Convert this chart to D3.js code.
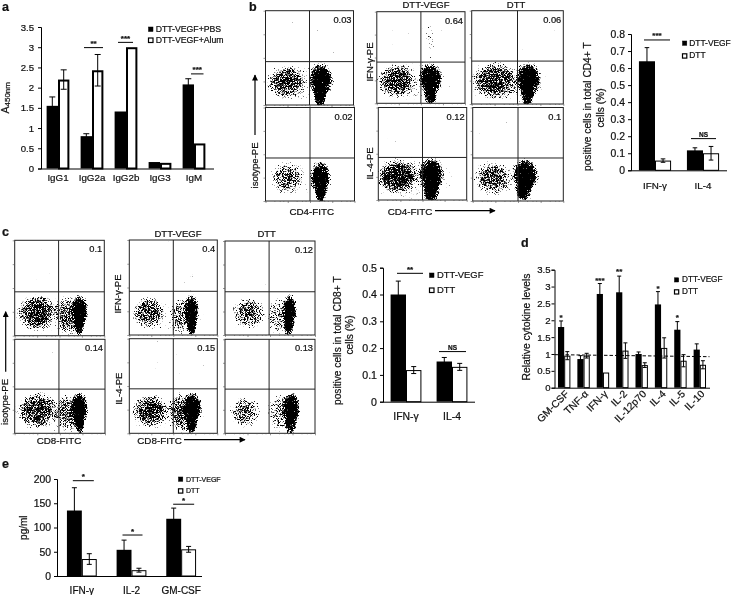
<!DOCTYPE html>
<html><head><meta charset="utf-8">
<script src="https://cdn.jsdelivr.net/npm/d3@7"></script>
<style>
html,body{margin:0;padding:0;background:#fff}
svg{display:block;filter:blur(0.35px)}
text{font-family:"Liberation Sans",Arial,sans-serif;fill:#111;stroke:#111;stroke-width:.22px}
</style></head><body><svg id="fig" width="738" height="595"></svg>
<script>
// ---------- bar chart data ----------
const aCategories=["IgG1","IgG2a","IgG2b","IgG3","IgM"];
const aSeries=["DTT-VEGF+PBS","DTT-VEGF+Alum"];
const aPbs=[1.55,0.8,1.41,0.16,2.08], aPbsErr=[0.22,0.06,0.01,0.005,0.14];
const aAlum=[2.2,2.43,3.0,0.14,0.62], aAlumErr=[0.24,0.39,0,0.005,0.02];
const aTicks=[0,0.5,1,1.5,2,2.5,3,3.5];

const legendSeries=["DTT-VEGF","DTT"];
const bCategories=["IFN-γ","IL-4"];
const bVegf=[0.64,0.117], bVegfErr=[0.08,0.015];
const bDtt=[0.057,0.1], bDttErr=[0.01,0.04];
const bTicks=[0,0.1,0.2,0.3,0.4,0.5,0.6,0.7,0.8];

const cCategories=["IFN-γ","IL-4"];
const cVegf=[0.4,0.15], cVegfErr=[0.05,0.015];
const cDtt=[0.118,0.13], cDttErr=[0.013,0.013];
const cTicks=[0,0.1,0.2,0.3,0.4,0.5];

const dCategories=["GM-CSF","TNF-α","IFN-γ","IL-2","IL-12p70","IL-4","IL-5","IL-10"];
const dVegf=[1.8,0.85,2.78,2.83,1.0,2.47,1.72,1.13], dVegfErr=[0.18,0.1,0.31,0.48,0.06,0.38,0.24,0.17];
const dDtt=[0.95,0.95,0.45,1.1,0.67,1.18,0.8,0.68], dDttErr=[0.12,0.07,0.03,0.23,0.07,0.3,0.18,0.12];
const dTicks=[0,0.5,1,1.5,2,2.5,3,3.5];
const dBaseline=[0.98,0.92];

const eCategories=["IFN-γ","IL-2","GM-CSF"];
const eVegf=[135,54,118], eVegfErr=[47,20,22];
const eDtt=[35,12,55], eDttErr=[11,4,6];
const eTicks=[0,50,100,150,200];

// ---------- flow cytometry data ----------
// gate = [vertical, horizontal]; cloud = [x, y, rx, ry, density] on a 0..1 axis
const flowLabelsB=["0.03","0.02","0.64","0.12","0.06","0.1"];
const flowLabelsC=["0.1","0.14","0.4","0.15","0.12","0.13"];
const flowGatesB=[[.5,.46],[.5,.46],[.5,.45],[.5,.46],[.5,.46],[.5,.46]];
const flowGatesC=[[.49,.46],[.49,.47],[.5,.46],[.5,.47],[.49,.46],[.49,.47]];
const cloudsB1=[[.24,.25,.24,.2,.62],[.63,.27,.15,.2,1],[.62,.1,.08,.15,1],[.38,.21,.62,.27,.3],[.5,.72,.7,.35,.11]];
const cloudsB2=[[.24,.25,.2,.2,.55],[.62,.25,.13,.2,1],[.62,.1,.07,.15,1],[.38,.2,.55,.27,.22],[.5,.72,.7,.35,.08]];
const cloudsB3=[[.23,.25,.24,.2,.62],[.61,.27,.15,.19,1],[.61,.1,.08,.14,1],[.38,.22,.62,.28,.32],[.6,.68,.07,.24,.3],[.45,.72,.7,.35,.11]];
const cloudsB4=[[.22,.26,.26,.2,.66],[.6,.28,.15,.2,1],[.6,.1,.1,.15,1],[.36,.22,.62,.3,.38],[.5,.72,.7,.35,.1]];
const cloudsB5=[[.25,.25,.28,.22,.62],[.62,.27,.15,.2,1],[.61,.1,.08,.15,.95],[.38,.22,.62,.28,.32],[.5,.72,.7,.35,.1]];
const cloudsB6=[[.22,.25,.22,.2,.58],[.58,.28,.16,.2,1],[.56,.12,.1,.14,1],[.36,.2,.6,.28,.26],[.5,.72,.7,.35,.09]];
const cloudsC1=[[.25,.25,.24,.22,.68],[.73,.26,.1,.2,1],[.72,.1,.06,.13,.95],[.6,.22,.18,.24,.55],[.4,.2,.6,.26,.26],[.5,.75,.7,.35,.11]];
const cloudsC2=[[.25,.25,.26,.22,.64],[.72,.27,.1,.2,1],[.72,.1,.06,.13,.95],[.6,.22,.18,.24,.55],[.4,.2,.6,.26,.25],[.5,.75,.7,.35,.11]];
const cloudsC3=[[.22,.24,.2,.19,.62],[.71,.26,.09,.2,1],[.71,.1,.06,.13,.95],[.6,.2,.16,.24,.48],[.4,.2,.6,.26,.24],[.65,.58,.12,.2,.14],[.5,.75,.7,.35,.09]];
const cloudsC4=[[.24,.24,.23,.2,.66],[.72,.27,.12,.19,1],[.71,.1,.07,.13,.95],[.6,.22,.18,.24,.58],[.4,.2,.6,.26,.26],[.5,.75,.7,.35,.1]];
const cloudsC5=[[.26,.24,.2,.19,.58],[.72,.26,.09,.2,1],[.71,.1,.06,.13,.95],[.6,.2,.14,.24,.44],[.42,.2,.55,.26,.2],[.45,.75,.7,.35,.08]];
const cloudsC6=[[.22,.23,.19,.18,.56],[.74,.27,.11,.2,1],[.73,.1,.07,.13,.95],[.62,.22,.16,.24,.48],[.4,.2,.6,.26,.18],[.45,.75,.7,.35,.08]];

const FONT="'Liberation Sans',Arial,sans-serif";
const svg=d3.select("#fig");
const defs=svg.append("defs");

const grad=defs.append("radialGradient").attr("id","cloud");
[[0,1],[.55,.82],[.85,.35],[1,0]].forEach(s=>grad.append("stop").attr("offset",s[0]).attr("stop-color","#000").attr("stop-opacity",s[1]));
const mk=defs.append("marker").attr("id","arrow").attr("viewBox","0 0 10 10").attr("refX",9).attr("refY",5)
  .attr("markerWidth",11).attr("markerHeight",6).attr("markerUnits","userSpaceOnUse").attr("orient","auto");
mk.append("path").attr("d","M0,0L10,5L0,10Z").attr("fill","#000");

function text(x,y,s,size,opt={}){
  const t=svg.append("text").attr("x",x).attr("y",y).attr("font-size",size).text(s)
    .attr("text-anchor",opt.anchor||"start");
  if(opt.weight)t.attr("font-weight",opt.weight);
  if(opt.rotate)t.attr("transform",`rotate(${opt.rotate},${x},${y})`);
  return t;
}

let seed=3;
function flowPanel(x0,y0,x1,y1,gate,clouds,label){
  const id="f"+seed; seed+=7;
  const sx=d3.scaleLinear().domain([0,1]).range([x0,x1]);
  const sy=d3.scaleLinear().domain([0,1]).range([y1,y0]);
  defs.append("clipPath").attr("id","c"+id).append("rect").attr("x",x0).attr("y",y0).attr("width",x1-x0).attr("height",y1-y0);
  const f=defs.append("filter").attr("id",id).attr("filterUnits","userSpaceOnUse")
    .attr("x",x0).attr("y",y0).attr("width",x1-x0).attr("height",y1-y0)
    .attr("color-interpolation-filters","sRGB");
  f.append("feTurbulence").attr("type","fractalNoise").attr("baseFrequency",1.37).attr("numOctaves",1).attr("seed",seed).attr("result","n");
  f.append("feColorMatrix").attr("in","n").attr("type","matrix")
    .attr("values","0 0 0 0 0  0 0 0 0 0  0 0 0 0 0  1.4 0 0 0 -0.2").attr("result","m");
  f.append("feComposite").attr("in","SourceGraphic").attr("in2","m").attr("operator","arithmetic")
    .attr("k1",0).attr("k2",6).attr("k3",6).attr("k4",-6);
  const g=svg.append("g").attr("clip-path",`url(#c${id})`).append("g").attr("filter",`url(#${id})`);
  g.selectAll("ellipse").data(clouds).join("ellipse")
    .attr("cx",d=>sx(d[0])).attr("cy",d=>sy(d[1]))
    .attr("rx",d=>sx(d[2])-sx(0)).attr("ry",d=>sy(0)-sy(d[3]))
    .attr("fill","url(#cloud)").attr("fill-opacity",d=>d[4]);
  // gates and frame
  svg.append("line").attr("x1",sx(gate[0])).attr("x2",sx(gate[0])).attr("y1",y0).attr("y2",y1).attr("stroke","#222").attr("stroke-width",1);
  svg.append("line").attr("x1",x0).attr("x2",x1).attr("y1",sy(gate[1])).attr("y2",sy(gate[1])).attr("stroke","#222").attr("stroke-width",1);
  svg.append("rect").attr("x",x0).attr("y",y0).attr("width",x1-x0).attr("height",y1-y0).attr("fill","none").attr("stroke","#222").attr("stroke-width",1);
  const major=[0,.25,.5,.75,1], minor=d3.merge(major.slice(0,-1).map(m=>[.1,.16,.2].map(k=>m+k)));
  const axL=(v,s)=>svg.append("g").attr("transform",`translate(${x0},0)`).call(d3.axisLeft(sy).tickValues(v).tickSize(s).tickFormat("")).call(a=>{a.select(".domain").remove();a.selectAll("line").attr("stroke","#555").attr("stroke-width",.6)});
  const axB=(v,s)=>svg.append("g").attr("transform",`translate(0,${y1})`).call(d3.axisBottom(sx).tickValues(v).tickSize(s).tickFormat("")).call(a=>{a.select(".domain").remove();a.selectAll("line").attr("stroke","#555").attr("stroke-width",.6)});
  axL(major,2);axB(major,2);axB(minor,1);
  text(x1-2,y0+12,label,9.3,{anchor:"end"});
}

function barChart(o){
  const y=d3.scaleLinear().domain([o.ticks[0],o.ticks[o.ticks.length-1]]).range([o.y0,o.y1]);
  const x=d3.scaleBand().domain(o.cats).range([o.x0,o.x1]).paddingInner(o.pad).paddingOuter(o.pad/2);
  const inner=d3.scaleBand().domain([0,1]).range([0,x.bandwidth()]);
  const series=[{v:o.v1,e:o.e1,fill:"#000"},{v:o.v2,e:o.e2,fill:"#fff"}];
  const g=svg.append("g");
  series.forEach((s,i)=>{
    const rows=o.cats.map((c,j)=>({c,v:s.v[j],e:s.e[j]}));
    g.selectAll(null).data(rows).join("rect")
      .attr("x",d=>x(d.c)+inner(i)+(i?o.sw/2:0)).attr("y",d=>y(d.v)+(i?o.sw/2:0))
      .attr("width",inner.bandwidth()-(i?o.sw:0)).attr("height",d=>Math.max(0,y(0)-y(d.v)-(i?o.sw/2:0)))
      .attr("fill",s.fill).attr("stroke","#000").attr("stroke-width",i?o.sw:0);
    const cx=d=>x(d.c)+inner(i)+inner.bandwidth()/2;
    g.selectAll(null).data(rows.filter(d=>d.e>0.01*o.ticks[o.ticks.length-1])).join("path")
      .attr("d",d=>`M${cx(d)-o.cap},${y(d.v+d.e)}H${cx(d)+o.cap}M${cx(d)},${y(d.v+d.e)}V${y(d.v-d.e)}M${cx(d)-o.cap},${y(d.v-d.e)}H${cx(d)+o.cap}`)
      .attr("fill","none").attr("stroke","#000").attr("stroke-width",1);
  });
  const left=svg.append("g").attr("transform",`translate(${o.x0},0)`)
    .call(d3.axisLeft(y).tickValues(o.ticks).tickSize(3).tickPadding(o.tickPad||3).tickFormat(d=>String(d)));
  left.selectAll("path,line").attr("stroke","#000");
  left.selectAll("text").attr("font-size",o.tickSize).attr("font-family",FONT).attr("fill","#111");
  const bottom=svg.append("g").attr("transform",`translate(0,${o.y0})`)
    .call(d3.axisBottom(x).tickSize(0).tickPadding(o.labPad));
  bottom.selectAll("path").attr("stroke","#000").attr("stroke-width",o.baseW||1).attr("d",`M${o.x0},0.5H${o.baseEnd}`);
  bottom.selectAll("text").attr("font-size",o.labSize).attr("font-family",FONT).attr("fill","#111");
  if(o.rotate) bottom.selectAll("text").attr("text-anchor","end").attr("dx","-0.1em").attr("dy","0.55em").attr("transform","rotate(-45)");
  (o.sig||[]).forEach(s=>{
    const c=x(s.cat)+x.bandwidth()/2;
    if(s.a!==undefined) svg.append("line").attr("x1",c+s.a).attr("x2",c+s.b).attr("y1",y(s.y)).attr("y2",y(s.y)).attr("stroke","#000").attr("stroke-width",1);
    const mid=s.a!==undefined?c+(s.a+s.b)/2:x(s.cat)+inner.bandwidth()/2;
    text(mid,y(s.y)-(s.gap===undefined?1.5:s.gap),s.label,s.size||8,{anchor:"middle",weight:"bold"});
  });
  // legend
  const L=o.legend;
  o.names.forEach((n,i)=>{
    svg.append("rect").attr("x",L.x+.5).attr("y",L.y[i]-4.5).attr("width",L.s).attr("height",L.s)
      .attr("fill",i?"#fff":"#000").attr("stroke","#000").attr("stroke-width",i?1.2:.5);
    text(L.tx,L.y[i],n,L.size);
  });
  return {x,y};
}

// ---------- panel letters ----------
[["a",2,11],["b",249,11],["c",2,236],["d",521,247],["e",2,468]].forEach(d=>text(d[1],d[2],d[0],12.5,{weight:"bold"}));

// ---------- a ----------
barChart({cats:aCategories,names:aSeries,v1:aPbs,e1:aPbsErr,v2:aAlum,e2:aAlumErr,ticks:aTicks,x0:41,x1:211,baseEnd:214,y0:168.5,y1:27,pad:.33,sw:2,cap:3,
  tickSize:9.6,labSize:9.8,labPad:6,tickPad:4,legend:{x:148,y:[31.5,42.5],s:4.5,tx:155.7,size:8.7},
  sig:[{cat:"IgG2a",a:-8,b:11,y:2.99,label:"**"},{cat:"IgG2b",a:-8,b:7,y:3.12,label:"***"},{cat:"IgM",a:-3,b:9.5,y:2.34,label:"***"}]});
const aLab=text(9,113.5,"A",10.5,{rotate:-90});
aLab.append("tspan").attr("font-size",8).attr("dy",1).text("450nm");

// ---------- b flow ----------
const boxesB=[[265.5,10.7,353.5,105],[265.5,107.5,354.5,201],[376.8,11.7,465,103.3],[378.3,107.5,466.7,200],[471.7,10.7,563.3,104],[472.7,107.5,563.3,201]];
[cloudsB1,cloudsB2,cloudsB3,cloudsB4,cloudsB5,cloudsB6].forEach((c,i)=>{const b=boxesB[i];flowPanel(b[0],b[1],b[2],b[3],flowGatesB[i],c,flowLabelsB[i]);});
text(426,7.5,"DTT-VEGF",9.5,{anchor:"middle"});
text(516,7.5,"DTT",9.5,{anchor:"middle"});
text(372.5,62,"IFN-γ-PE",9.5,{anchor:"middle",rotate:-90});
text(372.5,163.5,"IL-4-PE",9.5,{anchor:"middle",rotate:-90});
text(258.3,165.5,"isotype-PE",9.5,{anchor:"middle",rotate:-90});
text(311.7,214.5,"CD4-FITC",9.8,{anchor:"middle"});
text(387.7,214.5,"CD4-FITC",9.8);
svg.append("line").attr("x1",255).attr("x2",255).attr("y1",135).attr("y2",75).attr("stroke","#000").attr("stroke-width",1.2).attr("marker-end","url(#arrow)");
svg.append("line").attr("x1",435).attr("x2",495).attr("y1",210.7).attr("y2",210.7).attr("stroke","#000").attr("stroke-width",1.2).attr("marker-end","url(#arrow)");

// ---------- b bars ----------
barChart({cats:bCategories,names:legendSeries,v1:bVegf,e1:bVegfErr,v2:bDtt,e2:bDttErr,ticks:bTicks,x0:631,x1:727,baseEnd:727,y0:170.3,y1:34,pad:.33,sw:1,cap:2.3,
  tickSize:10.4,labSize:9.8,labPad:12,tickPad:3,legend:{x:682,y:[45.5,58.3],s:4.3,tx:689.3,size:8.4},
  sig:[{cat:"IFN-γ",a:-11,b:15,y:.765,label:"***"},{cat:"IL-4",a:-12,b:13,y:.186,label:"NS",size:6.5,gap:2}]});
text(591.5,106.7,"positive cells in total CD4+ T",10.2,{anchor:"middle",rotate:-90});
text(603.5,108,"cells (%)",10.2,{anchor:"middle",rotate:-90});

// ---------- c flow ----------
const boxesC=[[14.7,240.3,104.3,335.7],[14.7,339.3,105,433.3],[129.3,240,217.3,335],[129.3,338.7,217.3,433.3],[225,241,315,335],[225,339.3,315,433.3]];
[cloudsC1,cloudsC2,cloudsC3,cloudsC4,cloudsC5,cloudsC6].forEach((c,i)=>{const b=boxesC[i];flowPanel(b[0],b[1],b[2],b[3],flowGatesC[i],c,flowLabelsC[i]);});
text(178,236.7,"DTT-VEGF",9.5,{anchor:"middle"});
text(266.7,236.7,"DTT",9.5,{anchor:"middle"});
text(120.7,294,"IFN-γ-PE",9.5,{anchor:"middle",rotate:-90});
text(122,388.7,"IL-4-PE",9.5,{anchor:"middle",rotate:-90});
text(8.3,402,"isotype-PE",9.5,{anchor:"middle",rotate:-90});
text(59,444,"CD8-FITC",9.8,{anchor:"middle"});
text(137.3,444,"CD8-FITC",9.8);
svg.append("line").attr("x1",5.7).attr("x2",5.7).attr("y1",371.7).attr("y2",311.7).attr("stroke","#000").attr("stroke-width",1.2).attr("marker-end","url(#arrow)");
svg.append("line").attr("x1",184).attr("x2",245).attr("y1",439.7).attr("y2",439.7).attr("stroke","#000").attr("stroke-width",1.2).attr("marker-end","url(#arrow)");

// ---------- c bars ----------
barChart({cats:cCategories,names:legendSeries,v1:cVegf,e1:cVegfErr,v2:cDtt,e2:cDttErr,ticks:cTicks,x0:383,x1:475,baseEnd:475,y0:401.7,y1:267.7,pad:.33,sw:1,cap:2.5,
  tickSize:10.6,labSize:10.4,labPad:11,tickPad:3,legend:{x:429,y:[277.5,292.5],s:4.5,tx:437,size:9.4},
  sig:[{cat:"IFN-γ",a:-9,b:17,y:.479,label:"**"},{cat:"IL-4",a:-13,b:14,y:.187,label:"NS",size:6.5,gap:2}]});
text(341,340.7,"positive cells in total CD8+ T",10.2,{anchor:"middle",rotate:-90});
text(353.3,335,"cells (%)",10.2,{anchor:"middle",rotate:-90});

// ---------- d ----------
const dChart=barChart({cats:dCategories,names:legendSeries,v1:dVegf,e1:dVegfErr,v2:dDtt,e2:dDttErr,ticks:dTicks,x0:554.5,x1:709.5,baseEnd:710,y0:387.7,y1:269.7,pad:.36,sw:1,cap:2,
  tickSize:9.6,labSize:10.2,labPad:3,tickPad:1,rotate:true,legend:{x:674,y:[282.3,294.3],s:4.2,tx:682,size:8.2},
  sig:[{cat:"GM-CSF",y:2.02,label:"*",gap:0},{cat:"IFN-γ",y:3.12,label:"***",gap:0},{cat:"IL-2",y:3.36,label:"**",gap:0},{cat:"IL-4",y:2.88,label:"*",gap:0},{cat:"IL-5",y:2.0,label:"*",gap:0}]});
svg.append("line").datum(dBaseline).attr("x1",554.5).attr("x2",709.5).attr("y1",d=>dChart.y(d[0])).attr("y2",d=>dChart.y(d[1]))
  .attr("stroke","#000").attr("stroke-width",1).attr("stroke-dasharray","3.5,2");
text(530,327,"Relative  cytokine levels",10.3,{anchor:"middle",rotate:-90});

// ---------- e ----------
barChart({cats:eCategories,names:legendSeries,v1:eVegf,e1:eVegfErr,v2:eDtt,e2:eDttErr,ticks:eTicks,x0:57,x1:206,baseEnd:202,y0:576,y1:479,pad:.4,sw:1,cap:2.5,
  tickSize:10.4,labSize:10,labPad:11,tickPad:3,legend:{x:178,y:[481.5,493.3],s:4.3,tx:186,size:7},
  sig:[{cat:"IFN-γ",a:-9,b:12,y:196.5,label:"*"},{cat:"IL-2",a:-9,b:11,y:84.5,label:"*"},{cat:"GM-CSF",a:-8,b:13,y:148,label:"*"}]});
text(26.7,527.7,"pg/ml",10,{anchor:"middle",rotate:-90});
</script></body></html>
